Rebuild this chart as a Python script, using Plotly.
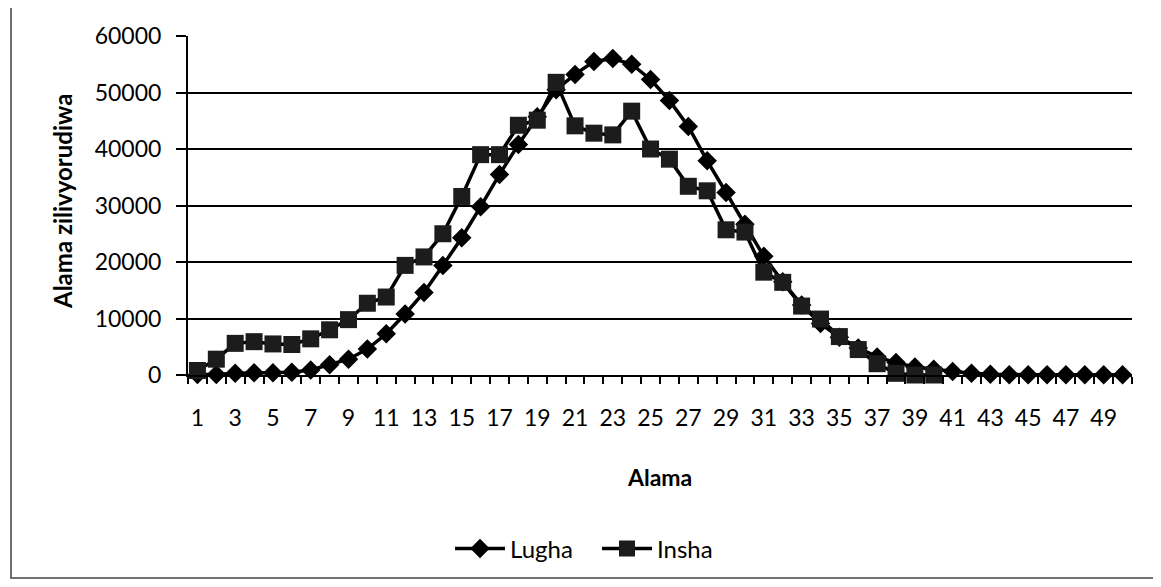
import plotly.graph_objects as go

# ---- data ----
alama = list(range(1, 51))  # score categories 1..50
tick_labels = ["1", "3", "5", "7", "9", "11", "13", "15", "17", "19", "21", "23", "25",
               "27", "29", "31", "33", "35", "37", "39", "41", "43", "45", "47", "49"]
tick_positions = [1, 3, 5, 7, 9, 11, 13, 15, 17, 19, 21, 23, 25,
                  27, 29, 31, 33, 35, 37, 39, 41, 43, 45, 47, 49]

lugha = [100, 100, 300, 400, 400, 500, 900, 1800, 2800, 4600,
         7300, 10800, 14600, 19400, 24300, 29800, 35500, 40800, 45700, 50500,
         53200, 55500, 56000, 55000, 52300, 48600, 44000, 37900, 32300, 26700,
         21000, 16500, 12400, 9100, 6700, 4800, 3200, 2200, 1400, 1000,
         600, 300, 150, 50, 50, 50, 50, 50, 50, 50]

insha = [800, 2800, 5600, 5900, 5500, 5400, 6400, 8000, 9800, 12700,
         13800, 19400, 20900, 25000, 31600, 39000, 39000, 44200, 45100, 51800,
         44100, 42800, 42500, 46700, 40000, 38200, 33400, 32600, 25700, 25300,
         18200, 16400, 12200, 9900, 6800, 4500, 2000, 300, 0, 0]

y_ticks = [0, 10000, 20000, 30000, 40000, 50000, 60000]

# ---- layout geometry (page pixels; the page body adds an 8px offset) ----
OFF = 8
PAGE_W, PAGE_H = 1161, 587
W, H = PAGE_W - OFF, PAGE_H - OFF
L, R, T, B = 188, 1132, 36, 375  # plot area in page pixels


def px_x(x):
    return (x - L) / (R - L)


def px_y(y):
    return (B - y) / (B - T)


FONT = "Lato, 'Open Sans', Arial, sans-serif"

fig = go.Figure()
fig.add_trace(go.Scatter(
    x=alama, y=lugha, name="Lugha", mode="lines+markers",
    line=dict(color="black", width=3.5),
    marker=dict(symbol="diamond", size=15, color="black"),
    cliponaxis=False,
))
fig.add_trace(go.Scatter(
    x=alama[:len(insha)], y=insha, name="Insha", mode="lines+markers",
    line=dict(color="black", width=3.5),
    marker=dict(symbol="square", size=17, color="#1c1c1c"),
    cliponaxis=False,
))

fig.update_layout(
    width=W, height=H,
    margin=dict(l=L - OFF, r=PAGE_W - R, t=T - OFF, b=PAGE_H - B),
    paper_bgcolor="white", plot_bgcolor="white",
    font=dict(family=FONT, size=23, color="black"),
    showlegend=True,
    legend=dict(orientation="h", x=px_x(450), y=px_y(549),
                xanchor="left", yanchor="middle",
                font=dict(family=FONT, size=24, color="black"),
                bgcolor="rgba(0,0,0,0)", itemwidth=50, tracegroupgap=0,
                entrywidth=82, entrywidthmode="pixels"),
    xaxis=dict(
        range=[0.5, 50.5], tickmode="array", tickvals=tick_positions, ticktext=tick_labels,
        ticks="", showgrid=False, zeroline=False,
        showline=True, linecolor="black", linewidth=2,
        tickfont=dict(family=FONT, size=23, color="black"),
        ticklabelstandoff=21,
        minor=dict(tickmode="array", tickvals=[i + 0.5 for i in range(0, 51)],
                   ticks="outside", ticklen=7, tickwidth=1.5, tickcolor="black",
                   showgrid=False),
    ),
    yaxis=dict(
        range=[0, 60000], tickmode="array", tickvals=y_ticks,
        ticktext=[str(v) for v in y_ticks],
        ticks="outside", ticklen=10, tickwidth=1.5, tickcolor="black",
        showgrid=True, gridcolor="black", gridwidth=1.8,
        zeroline=False, showline=True, linecolor="black", linewidth=2,
        tickfont=dict(family=FONT, size=23, color="black"),
        ticklabelstandoff=10,
    ),
    annotations=[
        dict(text="<b>Alama</b>", x=px_x(659), y=px_y(477), xref="paper", yref="paper",
             showarrow=False, xanchor="center", yanchor="middle",
             font=dict(family=FONT, size=23, color="black")),
        dict(text="<b>Alama zilivyorudiwa</b>", x=px_x(62), y=px_y(202),
             xref="paper", yref="paper", textangle=-90,
             showarrow=False, xanchor="center", yanchor="middle",
             font=dict(family=FONT, size=24, color="black")),
    ],
    shapes=[
        dict(type="rect", xref="paper", yref="paper",
             x0=px_x(11), x1=px_x(1154), y0=px_y(578), y1=px_y(6),
             line=dict(color="#444", width=1.5), layer="below"),
    ],
)

fig.write_html("out.html")
